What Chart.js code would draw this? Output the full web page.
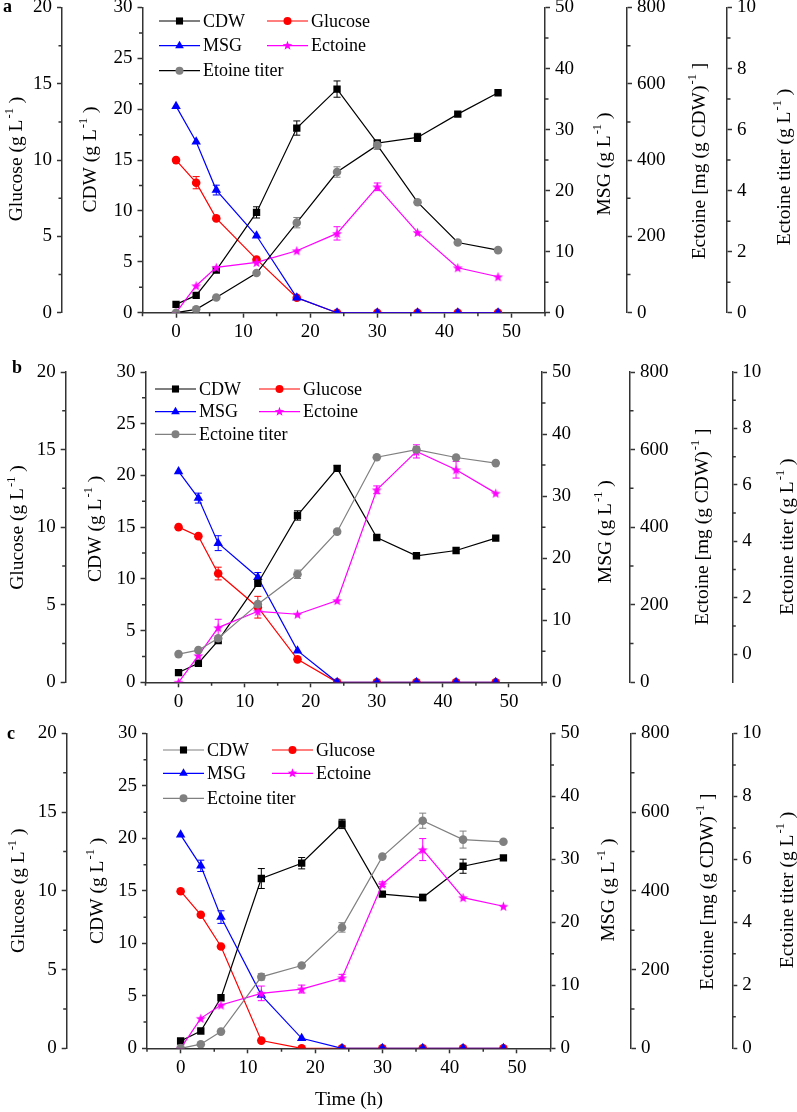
<!DOCTYPE html>
<html>
<head>
<meta charset="utf-8">
<script src="https://cdn.jsdelivr.net/npm/chart.js@4.4.0/dist/chart.umd.js"></script>
<style>
    html, body { margin: 0; background: #fff; }
    #wrap { position: relative; width: 797px; height: 1112px; overflow: hidden; }
    #wrap canvas { position: absolute; left: 0; top: 0; }
</style>
</head>
<body>
<div id="wrap">
    <canvas id="pa" width="797" height="1112"></canvas>
    <canvas id="pb" width="797" height="1112"></canvas>
    <canvas id="pc" width="797" height="1112"></canvas>
</div>
<script>
// sampling times (h)
const time = [0, 3, 6, 12, 18, 24, 30, 36, 42, 48];

// tick labels
const timeTicks = [0, 10, 20, 30, 40, 50];
const gluTicks = [0, 5, 10, 15, 20];
const cdwTicks = [0, 5, 10, 15, 20, 25, 30];
const msgTicks = [0, 10, 20, 30, 40, 50];
const mgTicks = [0, 200, 400, 600, 800];
const titerTicks = [0, 2, 4, 6, 8, 10];

// panel a
const cdwA = [0.82, 1.70, 4.19, 9.86, 18.15, 21.98, 16.67, 17.23, 19.52, 21.62];
const cdwErrA = [0, 0, 0, 0.55, 0.7, 0.8, 0.3, 0.4, 0, 0];
const gluA = [10.0, 8.52, 6.18, 3.49, 0.98, 0, 0, 0, 0, 0];
const gluErrA = [0, 0.4, 0, 0, 0, 0, 0, 0, 0, 0];
const msgA = [33.84, 28.0, 20.09, 12.6, 2.46, 0, 0, 0, 0, 0];
const msgErrA = [0, 0, 0.8, 0, 0, 0, 0, 0, 0, 0];
const ectA = [0, 70.7, 118.8, 131.9, 162.4, 207.9, 330, 210.5, 117.9, 94.3];
const ectErrA = [0, 0, 0, 0, 0, 17.5, 10, 0, 0, 0];
const titerA = [0, 0.11, 0.5, 1.3, 2.95, 4.61, 5.49, 3.62, 2.30, 2.05];
const titerErrA = [0, 0, 0, 0, 0.17, 0.17, 0.14, 0, 0, 0];

// panel b
const cdwB = [0.94, 1.84, 4.03, 9.58, 16.13, 20.68, 14.0, 12.23, 12.74, 13.94];
const cdwErrB = [0, 0, 0, 0, 0.45, 0.26, 0, 0, 0, 0];
const gluB = [10.0, 9.42, 7.01, 4.84, 1.48, 0, 0, 0, 0, 0];
const gluErrB = [0, 0, 0.41, 0.7, 0, 0, 0, 0, 0, 0];
const msgB = [33.98, 29.68, 22.42, 16.94, 5.1, 0, 0, 0, 0, 0];
const msgErrB = [0, 0.8, 1.2, 0.75, 0, 0, 0, 0, 0, 0];
const ectB = [0, 68.8, 141, 183, 175.5, 210.8, 496.3, 595.3, 548, 487.7];
const ectErrB = [0, 0, 21.5, 0, 0, 0, 10, 17, 21.5, 0];
const titerB = [0, 0.14, 0.56, 1.77, 2.83, 4.34, 6.98, 7.25, 6.97, 6.77];
const titerErrB = [0, 0, 0, 0, 0.15, 0, 0, 0.1, 0, 0];

// panel c
const cdwC = [0.70, 1.65, 4.82, 16.18, 17.64, 21.38, 14.69, 14.37, 17.35, 18.15];
const cdwErrC = [0, 0, 0, 0.95, 0.54, 0.44, 0, 0.3, 0.67, 0];
const gluC = [9.98, 8.48, 6.47, 0.49, 0, 0, 0, 0, 0, 0];
const gluErrC = [0, 0, 0, 0, 0, 0, 0, 0, 0, 0];
const msgC = [33.9, 28.98, 20.84, 8.46, 1.59, 0, 0, 0, 0, 0];
const msgErrC = [0, 0.9, 1.0, 0, 0, 0, 0, 0, 0, 0];
const ectC = [0, 76.1, 110, 139.6, 150.6, 179.4, 417, 505, 383, 361];
const ectErrC = [0, 0, 0, 18.6, 10, 8.5, 6, 28, 0, 0];
const titerC = [0, 0.13, 0.53, 2.27, 2.63, 3.84, 6.09, 7.23, 6.63, 6.56];
const titerErrC = [0, 0, 0, 0.1, 0, 0.15, 0, 0.24, 0.27, 0];

const AXIS = '#333';
const RED = '#ff0000', BLUE = '#0000ff', MAGENTA = '#ff00ff', GRAY = '#808080';
const FONT = "'Liberation Serif', 'Times New Roman', serif";
Chart.defaults.font.family = FONT;
Chart.defaults.color = '#000';

const panels = [
    { id: 'pa', tag: 'a', tagAt: [3, 12], top: 7.5, bottom: 312.7, left: 142.5, right: 545,
      gluX: 62, mgX: 627, titerX: 727, titerMin: 0,
      cdw: cdwA, cdwErr: cdwErrA, glu: gluA, gluErr: gluErrA, msg: msgA, msgErr: msgErrA,
      ect: ectA, ectErr: ectErrA, titer: titerA, titerErr: titerErrA,
      titerName: 'Etoine titer', titerLine: '#000', cdwLegendLine: '#000',
      legend: { x1: 159, x2: 267, rows: [21, 45.7, 70.7] },
      titles: { glu: [17, 159], cdw: [91, 159.5], msg: [605, 164], mg: [700, 161], titer: [785, 167] } },
    { id: 'pb', tag: 'b', tagAt: [12, 372.5], top: 372, bottom: 682.3, left: 145.5, right: 542,
      gluX: 65.7, mgX: 630, titerX: 732.3, titerMin: -1,
      cdw: cdwB, cdwErr: cdwErrB, glu: gluB, gluErr: gluErrB, msg: msgB, msgErr: msgErrB,
      ect: ectB, ectErr: ectErrB, titer: titerB, titerErr: titerErrB,
      titerName: 'Ectoine titer', titerLine: GRAY, cdwLegendLine: '#000',
      legend: { x1: 155, x2: 259, rows: [389, 411.7, 434.3] },
      titles: { glu: [18.3, 527.5], cdw: [96, 528.8], msg: [606, 531.7], mg: [702.6, 526.7], titer: [787.6, 536.7] } },
    { id: 'pc', tag: 'c', tagAt: [7, 739], top: 733.5, bottom: 1048.3, left: 147, right: 550.5,
      gluX: 66.7, mgX: 631, titerX: 732.3, titerMin: 0,
      cdw: cdwC, cdwErr: cdwErrC, glu: gluC, gluErr: gluErrC, msg: msgC, msgErr: msgErrC,
      ect: ectC, ectErr: ectErrC, titer: titerC, titerErr: titerErrC,
      titerName: 'Ectoine titer', titerLine: GRAY, cdwLegendLine: GRAY,
      legend: { x1: 163, x2: 272, rows: [750, 773.3, 798.3] },
      titles: { glu: [19.3, 890.8], cdw: [97.6, 890.8], msg: [608.6, 890], mg: [707.6, 891.7], titer: [787.6, 890] },
      xTitle: [349, 1105] },
];

function mids(t) {
    const out = [];
    for (let i = 0; i < t.length - 1; i++) out.push((t[i] + t[i + 1]) / 2);
    return out;
}

function starPath(ctx, x, y, r) {
    ctx.beginPath();
    for (let i = 0; i < 10; i++) {
        const rr = i % 2 ? r * 0.42 : r;
        const a = -Math.PI / 2 + i * Math.PI / 5;
        ctx.lineTo(x + rr * Math.cos(a), y + rr * Math.sin(a));
    }
    ctx.closePath();
}

function starImage(r, color) {
    const c = document.createElement('canvas');
    const s = Math.ceil(r * 2) + 2;
    c.width = c.height = s;
    const g = c.getContext('2d');
    g.fillStyle = color;
    starPath(g, s / 2, s / 2 + 0.5, r);
    g.fill();
    return c;
}
const STAR = starImage(5.2, MAGENTA);

function drawMarker(ctx, style, x, y, r, color) {
    ctx.fillStyle = color;
    ctx.beginPath();
    if (style === 'rect') ctx.rect(x - r * 0.71, y - r * 0.71, r * 1.42, r * 1.42);
    else if (style === 'circle') ctx.arc(x, y, r, 0, Math.PI * 2);
    else if (style === 'triangle') {
        ctx.moveTo(x, y - r);
        ctx.lineTo(x + r * 0.866, y + r / 2);
        ctx.lineTo(x - r * 0.866, y + r / 2);
        ctx.closePath();
    } else starPath(ctx, x, y, r);
    ctx.fill();
}

function drawTitle(ctx, x, y, main, sup, tail) {
    ctx.save();
    ctx.translate(x, y);
    ctx.rotate(-Math.PI / 2);
    ctx.fillStyle = '#000';
    ctx.textBaseline = 'middle';
    ctx.textAlign = 'left';
    const big = `19.5px ${FONT}`, small = `12.5px ${FONT}`;
    ctx.font = big;
    const w1 = ctx.measureText(main).width, w3 = ctx.measureText(tail).width;
    ctx.font = small;
    const w2 = ctx.measureText(sup).width + 1;
    let cx = -(w1 + w2 + w3) / 2;
    ctx.font = big; ctx.fillText(main, cx, 0); cx += w1;
    ctx.font = small; ctx.fillText(sup, cx + 1, -7); cx += w2;
    ctx.font = big; ctx.fillText(tail, cx, 0);
    ctx.restore();
}

function drawMinor(ctx, s, values) {
    ctx.save();
    ctx.strokeStyle = AXIS;
    ctx.lineWidth = 1.5;
    ctx.beginPath();
    values.forEach((v) => {
        const q = s.getPixelForValue(v);
        if (s.position === 'left') { ctx.moveTo(s.right, q); ctx.lineTo(s.right - 3.5, q); }
        else if (s.position === 'right') { ctx.moveTo(s.left, q); ctx.lineTo(s.left + 3.5, q); }
        else { ctx.moveTo(q, s.top); ctx.lineTo(q, s.top + 3.5); }
    });
    ctx.stroke();
    ctx.restore();
}

function drawErrors(chart) {
    const ctx = chart.ctx, xs = chart.scales.x;
    chart.data.datasets.forEach((ds) => {
        const ys = chart.scales[ds.yAxisID];
        ctx.save();
        ctx.strokeStyle = ds.pointBackgroundColor;
        ctx.lineWidth = 1;
        ds.data.forEach((pt, j) => {
            const e = ds.errors[j];
            if (!e) return;
            const x = xs.getPixelForValue(pt.x);
            const y1 = ys.getPixelForValue(pt.y - e), y2 = ys.getPixelForValue(pt.y + e);
            ctx.beginPath();
            ctx.moveTo(x, y1); ctx.lineTo(x, y2);
            ctx.moveTo(x - 3.5, y1); ctx.lineTo(x + 3.5, y1);
            ctx.moveTo(x - 3.5, y2); ctx.lineTo(x + 3.5, y2);
            ctx.stroke();
        });
        ctx.restore();
    });
}

function decor(p) {
    return {
        id: 'decor',
        beforeDatasetsDraw: (chart) => drawErrors(chart),
        afterDraw: (chart) => {
            const ctx = chart.ctx, sc = chart.scales;
            drawMinor(ctx, sc.x, [-5, ...mids(timeTicks), 55]);
            drawMinor(ctx, sc.glu, mids(gluTicks));
            drawMinor(ctx, sc.cdw, mids(cdwTicks));
            drawMinor(ctx, sc.msg, mids(msgTicks));
            drawMinor(ctx, sc.mg, mids(mgTicks));
            drawMinor(ctx, sc.titer, mids(titerTicks));

            const t = p.titles;
            drawTitle(ctx, t.glu[0], t.glu[1], 'Glucose (g L', '-1', ' )');
            drawTitle(ctx, t.cdw[0], t.cdw[1], 'CDW (g L', '-1', ' )');
            drawTitle(ctx, t.msg[0], t.msg[1], 'MSG (g L', '-1', ' )');
            drawTitle(ctx, t.mg[0], t.mg[1], 'Ectoine [mg (g CDW)', '-1', ' ]');
            drawTitle(ctx, t.titer[0], t.titer[1], 'Ectoine titer (g L', '-1', ' )');

            // legend
            const L = p.legend;
            const items = [
                [L.x1, L.rows[0], 'CDW', p.cdwLegendLine, 'rect', '#000', 5],
                [L.x2, L.rows[0], 'Glucose', RED, 'circle', RED, 4],
                [L.x1, L.rows[1], 'MSG', BLUE, 'triangle', BLUE, 5],
                [L.x2, L.rows[1], 'Ectoine', MAGENTA, 'star', MAGENTA, 5],
                [L.x1, L.rows[2], p.titerName, p.titerLine, 'circle', GRAY, 4],
            ];
            ctx.save();
            items.forEach(([x, y, label, line, style, col, r]) => {
                ctx.strokeStyle = line;
                ctx.lineWidth = 1.2;
                ctx.beginPath();
                ctx.moveTo(x, y); ctx.lineTo(x + 41, y);
                ctx.stroke();
                drawMarker(ctx, style, x + 20.5, y, r, col);
                ctx.fillStyle = '#000';
                ctx.font = `18px ${FONT}`;
                ctx.textBaseline = 'middle';
                ctx.textAlign = 'left';
                ctx.fillText(label, x + 44, y + 1);
            });

            ctx.font = `bold 18px ${FONT}`;
            ctx.textBaseline = 'alphabetic';
            ctx.fillText(p.tag, p.tagAt[0], p.tagAt[1]);
            if (p.xTitle) {
                ctx.font = `19.5px ${FONT}`;
                ctx.textAlign = 'center';
                ctx.fillText('Time (h)', p.xTitle[0], p.xTitle[1]);
            }
            ctx.restore();
        },
    };
}

function pts(vals) {
    return time.map((t, i) => ({ x: t, y: vals[i] }));
}

function series(vals, errs, axis, line, fill, style, r) {
    return {
        data: pts(vals), errors: errs, yAxisID: axis,
        borderColor: line, borderWidth: 1.2, pointBackgroundColor: fill,
        pointBorderWidth: 0, pointStyle: style, pointRadius: r, tension: 0,
    };
}

function yScale(pos, min, max, ticks, width, weight) {
    return {
        type: 'linear', position: pos, min, max, weight,
        afterBuildTicks: (s) => { s.ticks = ticks.map((v) => ({ value: v })); },
        afterFit: (s) => { s.width = width; s.paddingTop = 0; s.paddingBottom = 0; },
        border: { display: true, color: AXIS, width: 1.5 },
        grid: { drawOnChartArea: false, tickLength: 5, tickWidth: 1.5, tickColor: AXIS },
        ticks: { color: '#000', font: { size: 19 }, padding: 5, autoSkip: false },
    };
}

function makeChart(p) {
    new Chart(document.getElementById(p.id), {
        type: 'line',
        data: {
            datasets: [
                series(p.titer, p.titerErr, 'titer', p.titerLine, GRAY, 'circle', 4.3),
                series(p.ect, p.ectErr, 'mg', MAGENTA, MAGENTA, STAR, 5),
                series(p.cdw, p.cdwErr, 'cdw', '#000', '#000', 'rect', 5.2),
                series(p.msg, p.msgErr, 'msg', BLUE, BLUE, 'triangle', 5.5),
                series(p.glu, p.gluErr, 'glu', RED, RED, 'circle', 4.3),
            ],
        },
        options: {
            responsive: false,
            animation: false,
            events: [],
            layout: { padding: { top: p.top, left: 0, right: 0, bottom: 0 } },
            plugins: { legend: { display: false }, tooltip: { enabled: false } },
            scales: {
                x: {
                    type: 'linear', min: -5, max: 55,
                    afterBuildTicks: (s) => { s.ticks = timeTicks.map((v) => ({ value: v })); },
                    afterFit: (s) => { s.height = 1112 - p.bottom; s.paddingLeft = 0; s.paddingRight = 0; },
                    border: { display: true, color: AXIS, width: 1.5 },
                    grid: { drawOnChartArea: false, tickLength: 5, tickWidth: 1.5, tickColor: AXIS },
                    ticks: { color: '#000', font: { size: 19 }, padding: 3, maxRotation: 0, autoSkip: false },
                },
                glu: yScale('left', 0, 20, gluTicks, p.gluX, 2),
                cdw: yScale('left', 0, 30, cdwTicks, p.left - p.gluX, 1),
                msg: yScale('right', 0, 50, msgTicks, p.mgX - p.right, 1),
                mg: yScale('right', 0, 800, mgTicks, p.titerX - p.mgX, 2),
                titer: yScale('right', p.titerMin, 10, titerTicks, 797 - p.titerX, 3),
            },
        },
        plugins: [decor(p)],
    });
}

panels.forEach(makeChart);
</script>
</body>
</html>
